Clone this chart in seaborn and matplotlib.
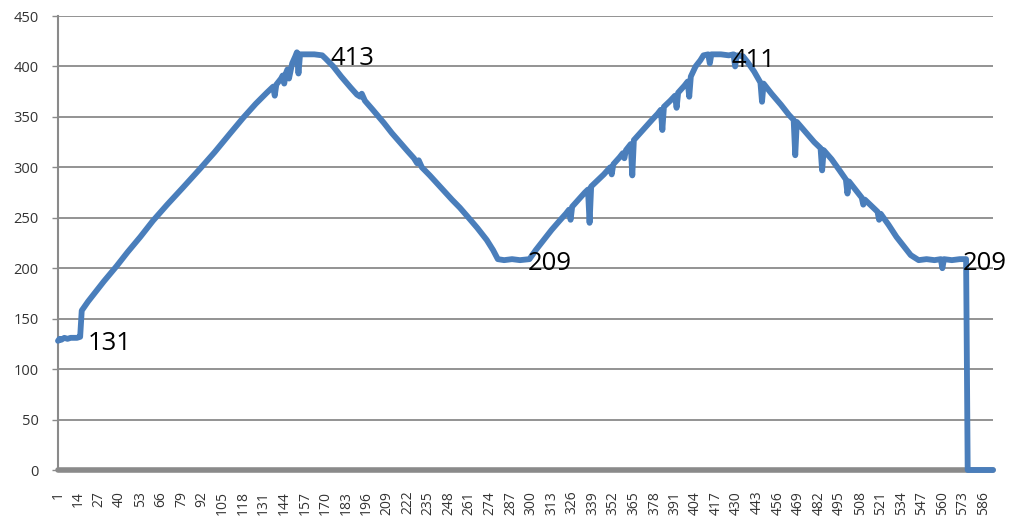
import matplotlib
matplotlib.use("Agg")
import matplotlib.pyplot as plt
import seaborn as sns

# readings (sample number, value) taken off the chart
sample = [1, 2, 3, 5, 7, 9, 11, 13, 15, 16, 20, 25, 30, 38, 45, 53, 61, 70, 80, 91,
          100, 110, 118, 126, 133, 137, 138, 139, 142, 143, 144, 145, 146, 147, 149,
          151, 152, 153, 154, 158, 163, 168,
          170, 175, 180, 186, 190, 192, 193, 195, 200, 207, 212, 217, 222, 226, 228,
          229, 231, 236, 243, 250, 255, 260, 266, 272, 276, 279, 283, 288, 293, 299,
          303, 308, 313, 318, 322, 324, 325, 326, 330, 334, 336, 337, 338, 342, 346,
          350, 351, 352, 356, 358, 359, 360, 363, 364, 365, 369, 373, 377, 380, 382,
          383, 384, 388, 391, 392, 393, 397, 399, 400, 401, 404, 407, 409, 412, 413,
          414, 420, 425, 428, 429, 430, 434,
          437, 441, 445, 446, 447, 452, 458, 463, 466, 467, 468, 474, 479, 483, 484,
          485, 490, 495, 499, 500, 501, 505, 509, 510, 511, 515, 519, 520, 521, 526,
          531, 536, 540, 545, 550, 555, 559, 560, 561, 566, 571, 575, 576, 580, 585, 592]
value = [128, 130, 129, 131, 130, 131, 131, 131, 132, 158, 167, 177, 187, 202, 216, 231, 247, 263, 280, 299,
         315, 334, 349, 363, 374, 380, 371, 382, 388, 391, 383, 393, 397, 388, 403,
         410, 414, 393, 412, 412, 412, 411,
         408, 400, 390, 379, 372, 370, 373, 366, 357, 344, 334, 325, 316, 309, 304,
         307, 300, 292, 280, 268, 260, 251, 240, 228, 218, 209, 208, 209, 208, 209,
         218, 228, 238, 247, 254, 258, 248, 261, 268, 275, 278, 245, 281, 287, 293,
         300, 293, 303, 310, 314, 309, 317, 323, 292, 327, 334, 341, 348, 353, 357,
         337, 360, 366, 371, 359, 374, 381, 385, 370, 390, 400, 406, 411, 412, 403,
         412, 412, 411, 412, 400, 411, 410,
         404, 395, 384, 365, 383, 373, 362, 352, 347, 312, 345, 334, 325, 319, 297,
         317, 308, 297, 288, 274, 286, 278, 270, 263, 268, 262, 256, 248, 254, 243,
         231, 221, 213, 208, 209, 208, 209, 200, 209, 208, 209, 209, 0, 0, 0, 0]

# labelled values
label_text = ["131", "413", "209", "411", "209"]
label_x = [20, 173, 298, 427, 573]
label_y = [119, 401, 198, 399, 198]

x_ticks = list(range(1, 592, 13))
y_ticks = list(range(0, 451, 50))

sns.set_style("white")
plt.rcParams["font.family"] = ["Open Sans", "DejaVu Sans"]

fig = plt.figure(figsize=(10.14, 5.23), dpi=100)
ax = fig.add_axes([58 / 1014, 1 - 470 / 523, (993 - 58) / 1014, (470 - 16) / 523])

grey = "#8a8a8a"
for yt in y_ticks[1:]:
    ax.axhline(yt, color=grey, lw=1.3, zorder=1)
ax.axhline(0, color=grey, lw=4, zorder=2, clip_on=False)

sns.lineplot(x=sample, y=value, color="#4a7ebb", linewidth=4.2, ax=ax, zorder=3, clip_on=False,
             solid_joinstyle="round", solid_capstyle="round")

for t, tx, ty in zip(label_text, label_x, label_y):
    ax.text(tx, ty, t, fontsize=18.5, color="black", ha="left", va="baseline", zorder=4)

ax.set_xlim(1, 592)
ax.set_ylim(0, 450)
ax.set_xticks(x_ticks)
ax.set_xticklabels([str(t) for t in x_ticks], rotation=90, fontsize=10, color="#333333")
ax.set_yticks(y_ticks)
ax.set_yticklabels([str(t) for t in y_ticks], fontsize=10.5, color="#333333")
ax.tick_params(axis="y", length=4, width=1, color=grey, pad=10, left=True)
ax.tick_params(axis="x", length=0, pad=15)
ax.set_xlabel("")
ax.set_ylabel("")

for s in ["top", "right", "bottom"]:
    ax.spines[s].set_visible(False)
ax.spines["left"].set_color(grey)
ax.spines["left"].set_linewidth(1.5)

fig.savefig("out.png", dpi=100, facecolor="white")
